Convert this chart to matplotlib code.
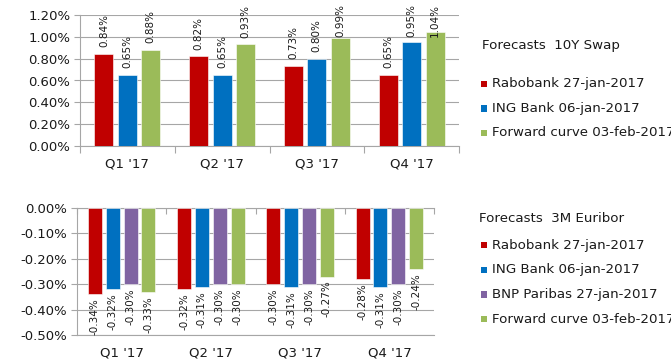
import matplotlib
matplotlib.use("Agg")
import matplotlib.pyplot as plt
import numpy as np
from matplotlib.patches import Rectangle
from matplotlib.ticker import FixedLocator, FuncFormatter

plt.rcParams['font.family'] = ['DejaVu Sans']

quarters = ["Q1 '17", "Q2 '17", "Q3 '17", "Q4 '17"]

# Top chart: 10Y swap forecasts (%)
swap_series = ["Rabobank 27-jan-2017", "ING Bank 06-jan-2017", "Forward curve 03-feb-2017"]
swap_rabobank = [0.84, 0.82, 0.73, 0.65]
swap_ing = [0.65, 0.65, 0.80, 0.95]
swap_forward = [0.88, 0.93, 0.99, 1.04]

# Bottom chart: 3M Euribor forecasts (%)
eur_series = ["Rabobank 27-jan-2017", "ING Bank 06-jan-2017", "BNP Paribas 27-jan-2017",
              "Forward curve 03-feb-2017"]
eur_rabobank = [-0.34, -0.32, -0.30, -0.28]
eur_ing = [-0.32, -0.31, -0.31, -0.31]
eur_bnp = [-0.30, -0.30, -0.30, -0.30]
eur_forward = [-0.33, -0.30, -0.27, -0.24]

RED = '#C00000'
BLUE = '#0070C0'
PURPLE = '#8064A2'
GREEN = '#9BBB59'
GRID = '#A6A6A6'
TXT = '#1a1a1a'

W, H = 671, 361
DPI = 100
fig = plt.figure(figsize=(W / DPI, H / DPI), dpi=DPI)

def px_axes(l, r, t, b):
    return fig.add_axes([l / W, 1 - b / H, (r - l) / W, (b - t) / H])

def fmt_pct(v, p=None):
    v = round(v, 4)
    if abs(v) < 1e-9:
        v = 0.0
    return f"{v:.2f}%"

pct = FuncFormatter(fmt_pct)

x = np.arange(len(quarters))

# ---------------- top chart ----------------
ax1 = px_axes(80, 459, 15, 146)
ax1.set_xlim(-0.5, len(quarters) - 0.5)
ax1.set_ylim(0, 1.2)
top_data = [swap_rabobank, swap_ing, swap_forward]
top_cols = [RED, BLUE, GREEN]
bw1 = 0.2
step1 = 0.247
labels_top = []
for i, (vals, c) in enumerate(zip(top_data, top_cols)):
    xs = x + (i - 1) * step1
    ax1.bar(xs, vals, width=bw1, color=c, edgecolor='white', linewidth=0.4, zorder=3)
    for xi, v in zip(xs, vals):
        t = ax1.annotate(f"{v:.2f}%", xy=(xi, v), xytext=(0, 5), textcoords='offset points',
                         rotation=90, ha='center', va='bottom', fontsize=7.5, color=TXT,
                         annotation_clip=False, zorder=5)
        labels_top.append(t)

ax1.yaxis.set_major_locator(FixedLocator(np.arange(0, 1.21, 0.2)))
ax1.yaxis.set_major_formatter(pct)
ax1.grid(axis='y', color=GRID, linewidth=0.8, zorder=0)
ax1.set_axisbelow(True)
ax1.set_xticks(x)
ax1.set_xticklabels(quarters)
ax1.set_xticks(np.arange(-0.5, len(quarters), 1.0), minor=True)
ax1.tick_params(axis='x', which='major', length=0, pad=8, labelsize=9.5, labelcolor=TXT)
ax1.tick_params(axis='x', which='minor', length=5, color=GRID, width=0.8, direction='out')
ax1.tick_params(axis='y', length=4, color=GRID, width=0.8, labelsize=9.5, labelcolor=TXT, pad=3)
for s in ['top', 'right']:
    ax1.spines[s].set_visible(False)
for s in ['left', 'bottom']:
    ax1.spines[s].set_color(GRID)
    ax1.spines[s].set_linewidth(0.8)

# ---------------- bottom chart ----------------
ax2 = px_axes(77, 434, 208, 335)
ax2.set_xlim(-0.5, len(quarters) - 0.5)
ax2.set_ylim(-0.5, 0)
bot_data = [eur_rabobank, eur_ing, eur_bnp, eur_forward]
bot_cols = [RED, BLUE, PURPLE, GREEN]
bw2 = 0.157
step2 = 0.2
for i, (vals, c) in enumerate(zip(bot_data, bot_cols)):
    xs = x + (i - 1.5) * step2
    ax2.bar(xs, vals, width=bw2, color=c, edgecolor='white', linewidth=0.4, zorder=3)
    for xi, v in zip(xs, vals):
        ax2.annotate(f"{v:.2f}%", xy=(xi, v), xytext=(0, -3), textcoords='offset points',
                     rotation=90, ha='center', va='top', fontsize=7.5, color=TXT,
                     annotation_clip=False, zorder=5)

ax2.yaxis.set_major_locator(FixedLocator(np.arange(-0.5, 0.001, 0.1)))
ax2.yaxis.set_major_formatter(pct)
ax2.grid(axis='y', color=GRID, linewidth=0.8, zorder=0)
ax2.set_axisbelow(True)
ax2.set_xticks(x)
ax2.set_xticklabels(quarters)
ax2.set_xticks(np.arange(-0.5, len(quarters), 1.0), minor=True)
ax2.tick_params(axis='x', which='major', length=0, pad=8, labelsize=9.5, labelcolor=TXT)
ax2.tick_params(axis='x', which='minor', bottom=False, top=True, direction='in',
                length=4, color=GRID, width=0.8)
ax2.tick_params(axis='y', length=4, color=GRID, width=0.8, labelsize=9.5, labelcolor=TXT, pad=3)
ax2.spines['right'].set_visible(False)
for s in ['left', 'top', 'bottom']:
    ax2.spines[s].set_color(GRID)
    ax2.spines[s].set_linewidth(0.8)

# ---------------- legends (figure text) ----------------
LEG_FS = 9.6

def legend_block(title, title_x, title_y, names, colors, y0, dy, x_sq, x_txt):
    fig.text(title_x / W, 1 - title_y / H, title, fontsize=LEG_FS, color=TXT,
             va='center', ha='left')
    for k, (n, c) in enumerate(zip(names, colors)):
        yc = y0 + k * dy
        fig.patches.append(Rectangle((x_sq / W, 1 - (yc + 3.2) / H), 6.2 / W, 6.4 / H,
                                     transform=fig.transFigure, facecolor=c, edgecolor='none'))
        fig.text(x_txt / W, 1 - yc / H, n, fontsize=LEG_FS, color=TXT, va='center', ha='left')

legend_block("Forecasts  10Y Swap", 482, 46, swap_series, top_cols, 84, 24.5, 481, 492)
legend_block("Forecasts  3M Euribor", 479, 219, eur_series, bot_cols, 245, 24.7, 481, 492)

# clamp top-chart data labels inside the figure
fig.canvas.draw()
r = fig.canvas.get_renderer()
for t in labels_top:
    bb = t.get_window_extent(r)
    lim = H - 4
    if bb.y1 > lim:
        dy = (bb.y1 - lim) * 72.0 / DPI
        ox, oy = t.xyann
        t.xyann = (ox, oy - dy)

fig.savefig("out.png", dpi=DPI)
